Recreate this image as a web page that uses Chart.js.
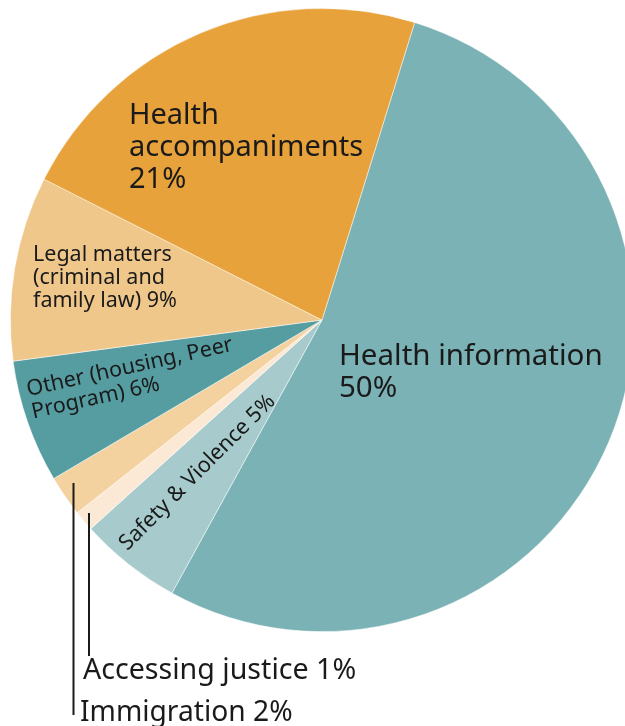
<!DOCTYPE html>
<html>
<head>
<meta charset="utf-8">
<script src="https://cdn.jsdelivr.net/npm/chart.js@4/dist/chart.umd.min.js"></script>
<style>
    html, body { margin: 0; padding: 0; background: #fff; overflow: hidden; }
    #wrap { position: absolute; left: 0; top: 0; width: 644px; height: 726px; }
</style>
</head>
<body>
<div id="wrap"><canvas id="pieChart"></canvas></div>
<script>
// Slices, clockwise from the Health information edge
const categories = ['Health information', 'Safety & Violence', 'Accessing justice', 'Immigration',
    'Other (housing, Peer Program)', 'Legal matters (criminal and family law)', 'Health accompaniments'];
const values = [50, 5, 1, 2, 6, 9, 21];
const colors = ['#7bb2b5', '#a7cbcc', '#fbe8d5', '#f3d2a0', '#559da1', '#f0c78b', '#e8a23b'];

const FONT = "'Noto Sans', sans-serif";
const INK = '#1a1a1a';

// Draw the slice labels and the leader lines for the two small slices
const labelPlugin = {
    id: 'sliceLabels',
    afterDraw(chart) {
        const ctx = chart.ctx;
        ctx.save();
        ctx.fillStyle = INK;
        ctx.textBaseline = 'middle';
        ctx.textAlign = 'left';

        const lines = (list, x, y, size, step) => {
            ctx.font = `${size}px ${FONT}`;
            list.forEach((t, i) => ctx.fillText(t, x, y + i * step));
        };

        lines(['Health', 'accompaniments', '21%'], 129, 116, 29, 32);
        lines(['Health information', '50%'], 339, 357, 29.5, 32);
        lines(['Legal matters', '(criminal and', 'family law) 9%'], 33, 255, 21.5, 23);

        // rotated labels
        ctx.save();
        ctx.translate(27, 390);
        ctx.rotate(-12.5 * Math.PI / 180);
        lines(['Other (housing, Peer', 'Program) 6%'], 0, 0, 21.5, 23);
        ctx.restore();

        ctx.save();
        ctx.translate(123, 547);
        ctx.rotate(-45 * Math.PI / 180);
        lines(['Safety & Violence 5%'], 0, 0, 21.6, 0);
        ctx.restore();

        // leader lines
        ctx.strokeStyle = INK;
        ctx.lineWidth = 2;
        ctx.beginPath();
        ctx.moveTo(89, 513); ctx.lineTo(89, 656);
        ctx.moveTo(73.5, 483); ctx.lineTo(73.5, 715);
        ctx.stroke();

        lines(['Accessing justice 1%'], 83, 671, 28.6, 0);
        lines(['Immigration 2%'], 80, 713, 28.2, 0);
        ctx.restore();
    }
};

new Chart(document.getElementById('pieChart'), {
    type: 'pie',
    data: {
        labels: categories,
        datasets: [{
            data: values,
            backgroundColor: colors,
            borderColor: 'rgba(255,255,255,0.6)',
            borderWidth: 0.8
        }]
    },
    options: {
        responsive: true,
        maintainAspectRatio: false,
        animation: false,
        rotation: 17.3,
        layout: { padding: { left: 10, right: 10, top: 8, bottom: 94 } },
        plugins: {
            legend: { display: false },
            tooltip: { enabled: false }
        }
    },
    plugins: [labelPlugin]
});
</script>
</body>
</html>
